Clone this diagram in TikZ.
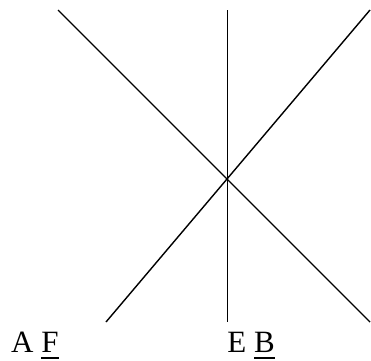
\documentclass[tikz,border=0pt]{standalone}
\usepackage{fontspec}
\setmainfont{Liberation Serif}
\newcommand\myul[1]{\setbox0\hbox{#1}\rlap{\rule[-6.2pt]{\wd0}{1.7pt}}\box0}
\begin{document}
\begin{tikzpicture}[x=1pt,y=1pt,
  ln/.style={line width=1.4pt,black},
  lbl/.style={inner sep=0pt,anchor=base west,font=\fontsize{31}{34}\selectfont}]
\useasboundingbox (0,0) rectangle (371,360);
\coordinate (p1) at (58,350);
\coordinate (p2) at (370,38);
\coordinate (q1) at (370,350);
\coordinate (q2) at (106,38);
\coordinate (v1) at (227.5,350);
\coordinate (v2) at (227.5,38);
\draw[ln] (p1) -- (p2);
\draw[ln] (q1) -- (q2);
\draw[ln] (v1) -- (v2);
\node[lbl] (af) at (11,7.5) {A \myul{F}};
\node[lbl] (eb) at (227.2,7.5) {E \myul{B}};
\end{tikzpicture}
\end{document}
